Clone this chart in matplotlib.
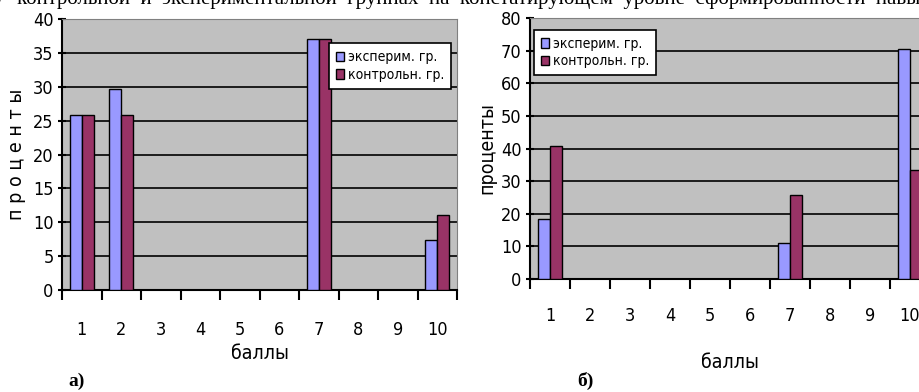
import numpy as np
import matplotlib
matplotlib.use('Agg')
import matplotlib.pyplot as plt
from matplotlib.ticker import FixedLocator, NullFormatter

# data: percent of students per score, 27 students per group
scores = ['1', '2', '3', '4', '5', '6', '7', '8', '9', '10']
exp_a = [25.9, 29.6, 0, 0, 0, 0, 37.0, 0, 0, 7.4]
ctrl_a = [25.9, 25.9, 0, 0, 0, 0, 37.0, 0, 0, 11.1]
exp_b = [18.5, 0, 0, 0, 0, 0, 11.1, 0, 0, 70.4]
ctrl_b = [40.7, 0, 0, 0, 0, 0, 25.9, 0, 0, 33.3]
legend_labels = ['эксперим. гр.', 'контрольн. гр.']

NARROW = ['Liberation Sans Narrow', 'DejaVu Sans']
SERIF = ['Liberation Serif', 'DejaVu Serif']
BLUE = '#9999FF'
RED = '#993366'

W, H = 919, 392
fig = plt.figure(figsize=(W / 100, H / 100), dpi=100)


def px(x0, y0, x1, y1):
    # pixel box (top-left origin) -> figure fraction rect
    return [x0 / W, 1 - y1 / H, (x1 - x0) / W, (y1 - y0) / H]


def excel_chart(ax, exp, ctrl, ymax, ystep, leg_loc, xpad):
    x = np.arange(len(scores))
    ax.set_facecolor('#C0C0C0')
    ax.bar(x - 0.15, exp, width=0.3, color=BLUE, edgecolor='black', linewidth=1.0,
           label=legend_labels[0], zorder=3)
    ax.bar(x + 0.15, ctrl, width=0.3, color=RED, edgecolor='black', linewidth=1.0,
           label=legend_labels[1], zorder=3)
    ax.set_xlim(-0.5, len(scores) - 0.5)
    ax.set_ylim(0, ymax)
    ax.set_yticks(np.arange(0, ymax + 1, ystep))
    ax.yaxis.grid(True, color='black', linewidth=1.2, zorder=1)
    ax.set_axisbelow(True)
    for s in ['top', 'right']:
        ax.spines[s].set_color('#808080')
    for s in ['left', 'bottom']:
        ax.spines[s].set_linewidth(1.5)
    ax.set_xticks(x)
    ax.set_xticklabels(scores, family=NARROW, fontsize=13, stretch='condensed')
    ax.xaxis.set_minor_locator(FixedLocator(np.arange(-0.5, len(scores), 1)))
    ax.xaxis.set_minor_formatter(NullFormatter())
    ax.tick_params(axis='x', which='major', length=0, pad=xpad)
    ax.tick_params(axis='x', which='minor', length=7, width=1.5, direction='out')
    ax.tick_params(axis='y', length=6, width=1.5, direction='inout', pad=3)
    for lab in ax.get_yticklabels():
        lab.set_family(NARROW)
        lab.set_fontsize(13)
        lab.set_stretch('condensed')
    leg = ax.legend(loc=leg_loc,
                    prop={'family': NARROW, 'size': 10, 'stretch': 'condensed'},
                    frameon=True, fancybox=False, framealpha=1, edgecolor='black',
                    handlelength=0.6, handleheight=0.7, handletextpad=0.25,
                    borderpad=0.5, borderaxespad=0.3, labelspacing=0.25)
    leg.get_frame().set_linewidth(1.2)
    return leg


ax1 = fig.add_axes(px(62, 19, 457, 290))
leg1 = excel_chart(ax1, exp_a, ctrl_a, 40, 5, 'upper right', 22)
leg1.set_bbox_to_anchor((0.995, 0.925))
ax1.set_ylabel('п р о ц е н т ы', family=NARROW, fontsize=14, labelpad=5,
               stretch='condensed')
ax1.set_xlabel('баллы', family=NARROW, fontsize=14, labelpad=4, stretch='condensed')

ax2 = fig.add_axes(px(530, 18, 930, 279))
leg2 = excel_chart(ax2, exp_b, ctrl_b, 80, 10, 'upper left', 20)
leg2.set_bbox_to_anchor((0.0, 0.97))
ax2.set_ylabel('проценты', family=NARROW, fontsize=14, labelpad=3, stretch='condensed')
ax2.set_xlabel('баллы', family=NARROW, fontsize=14, labelpad=20, stretch='condensed')

fig.text(68 / W, 1 - 386 / H, 'а)', family=SERIF, fontsize=14, weight='bold')
fig.text(577 / W, 1 - 386 / H, 'б)', family=SERIF, fontsize=14, weight='bold')

# clipped line of text from the page above the charts
fig.text(-0.01, 1 - 4 / H, 'о   контрольной  и  экспериментальной  группах  на  констатирующем  уровне  сформированности  навыков',
         family=SERIF, fontsize=15, va='baseline')

fig.savefig('out.png', dpi=100)
